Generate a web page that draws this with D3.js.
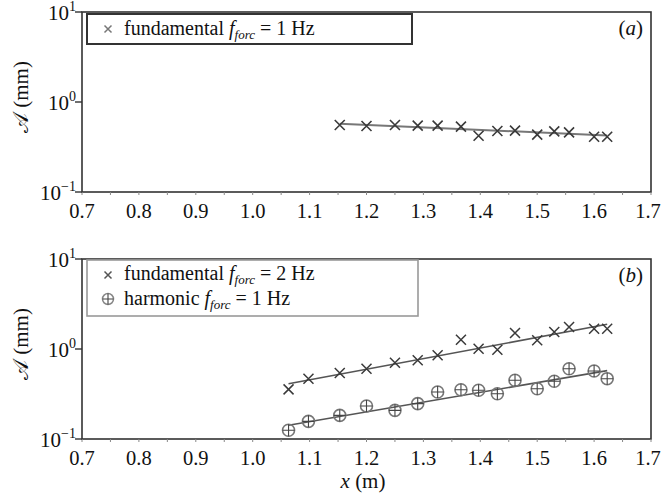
<!DOCTYPE html>
<html>
<head>
<meta charset="utf-8">
<script src="https://cdn.jsdelivr.net/npm/d3@7"></script>
<style>
  html, body { margin: 0; padding: 0; background: #fff; }
  svg { display: block; font-family: "Liberation Serif", "DejaVu Serif", serif; }
</style>
</head>
<body>
<svg id="chart" width="662" height="497"></svg>
<script>
// ---------- data ----------
const xTickValues = [0.7, 0.8, 0.9, 1.0, 1.1, 1.2, 1.3, 1.4, 1.5, 1.6, 1.7];
const yTickExponents = [1, 0, -1];

// panel (a): fundamental, f_forc = 1 Hz
const positionsA = [1.153, 1.2, 1.25, 1.29, 1.325, 1.366, 1.397, 1.43, 1.461, 1.5, 1.53, 1.556, 1.6, 1.623];
const fundamentalA = [0.555, 0.541, 0.555, 0.546, 0.546, 0.532, 0.422, 0.476, 0.48, 0.434, 0.472, 0.46, 0.411, 0.411];
const fitXA = [1.153, 1.623];
const fitYA = [0.575, 0.425];

// panel (b): fundamental f_forc = 2 Hz, harmonic f_forc = 1 Hz
const positionsB = [1.063, 1.098, 1.153, 1.2, 1.25, 1.29, 1.325, 1.366, 1.397, 1.43, 1.461, 1.5, 1.53, 1.556, 1.6, 1.623];
const fundamentalB = [0.356, 0.468, 0.541, 0.604, 0.705, 0.749, 0.851, 1.268, 1.008, 0.982, 1.506, 1.25, 1.545, 1.755, 1.68, 1.68];
const harmonicB = [0.125, 0.157, 0.183, 0.233, 0.208, 0.247, 0.333, 0.353, 0.348, 0.318, 0.449, 0.362, 0.438, 0.604, 0.570, 0.468];
const fitXB = [1.063, 1.623];
const fitFundB = [0.411, 1.88];
const fitHarmB = [0.142, 0.575];

// ---------- layout ----------
const svg = d3.select("#chart");
const left = 82, right = 651;
const x = d3.scaleLinear().domain([0.7, 1.7]).range([left, right]);
const FS = 21;

function drawCross(g, cx, cy, h, color, sw) {
  g.append("path")
    .attr("d", `M${cx - h},${cy - h}L${cx + h},${cy + h}M${cx - h},${cy + h}L${cx + h},${cy - h}`)
    .attr("stroke", color).attr("stroke-width", sw).attr("fill", "none");
}
function drawCirclePlus(g, cx, cy, r, color, sw) {
  g.append("circle").attr("cx", cx).attr("cy", cy).attr("r", r)
    .attr("fill", "none").attr("stroke", color).attr("stroke-width", sw);
  g.append("path")
    .attr("d", `M${cx - r},${cy}L${cx + r},${cy}M${cx},${cy - r}L${cx},${cy + r}`)
    .attr("stroke", "#444").attr("stroke-width", 1.1).attr("fill", "none");
}

function legendLabel(g, lx, ly, prefix, suffix) {
  const t = g.append("text").attr("x", lx).attr("y", ly)
    .attr("font-size", 20).attr("fill", "#111");
  t.append("tspan").text(prefix + " ");
  t.append("tspan").attr("font-style", "italic").text("f");
  t.append("tspan").attr("font-style", "italic").attr("font-size", 13).attr("dy", 4).text("forc");
  t.append("tspan").attr("dy", -4).text(" " + suffix);
}

function panel(top, bottom, label, showXLabel) {
  const y = d3.scaleLog().domain([0.1, 10]).range([bottom, top]);
  const g = svg.append("g");

  // frame
  g.append("rect").attr("x", left).attr("y", top)
    .attr("width", right - left).attr("height", bottom - top)
    .attr("fill", "none").attr("stroke", "#333").attr("stroke-width", 1.6);

  // x ticks (minor every 0.05)
  const minor = d3.range(0, 21).map(i => 0.7 + i * 0.05);
  g.selectAll(".xmt").data(minor).enter().append("line")
    .attr("x1", d => x(d)).attr("x2", d => x(d))
    .attr("y1", bottom).attr("y2", bottom + 3)
    .attr("stroke", "#888").attr("stroke-width", 1);

  g.selectAll(".xtl").data(xTickValues).enter().append("text")
    .attr("x", d => Math.min(x(d), 648)).attr("y", bottom + 26)
    .attr("text-anchor", "middle").attr("font-size", 20.5).attr("fill", "#111")
    .text(d => d.toFixed(1));

  // y ticks
  g.selectAll(".ytk").data(yTickExponents).enter().append("line")
    .attr("x1", left - 7).attr("x2", left)
    .attr("y1", d => y(Math.pow(10, d))).attr("y2", d => y(Math.pow(10, d)))
    .attr("stroke", "#333").attr("stroke-width", 1.4);

  yTickExponents.forEach(e => {
    const t = g.append("text").attr("x", 76).attr("y", y(Math.pow(10, e)) + 8)
      .attr("text-anchor", "end").attr("font-size", FS).attr("fill", "#111");
    t.append("tspan").text("10");
    t.append("tspan").attr("font-size", 14).attr("dy", -9).text(e < 0 ? "\u2212" + Math.abs(e) : String(e));
  });

  // y label
  const cy = top + 85;
  g.append("text").attr("transform", `translate(28,${cy}) rotate(-90)`)
    .attr("text-anchor", "middle").attr("font-size", FS).attr("fill", "#111")
    .text("\uD835\uDC9C (mm)");

  // panel label
  const pl = g.append("text").attr("x", 643).attr("y", top + 23)
    .attr("text-anchor", "end").attr("font-size", FS).attr("fill", "#111");
  pl.append("tspan").text("(");
  pl.append("tspan").attr("font-style", "italic").text(label);
  pl.append("tspan").text(")");

  if (showXLabel) {
    const xl = svg.append("text").attr("x", 363).attr("y", 488)
      .attr("text-anchor", "middle").attr("font-size", FS).attr("fill", "#111");
    xl.append("tspan").attr("font-style", "italic").text("x");
    xl.append("tspan").text(" (m)");
  }
  return { g, y };
}

const line = (y) => d3.line().x(d => x(d[0])).y(d => y(d[1]));

// ---------- panel (a) ----------
{
  const { g, y } = panel(12, 192, "a", false);
  g.append("path").datum(d3.zip(fitXA, fitYA)).attr("d", line(y))
    .attr("fill", "none").attr("stroke", "#777").attr("stroke-width", 2);
  positionsA.forEach((p, i) => drawCross(g, x(p), y(fundamentalA[i]), 5, "#3a3a3a", 1.6));

  g.append("rect").attr("x", 87).attr("y", 14).attr("width", 325).attr("height", 30)
    .attr("fill", "#fff").attr("stroke", "#333").attr("stroke-width", 2);
  drawCross(g, 108, 29, 3.5, "#777", 1.5);
  legendLabel(g, 124, 35, "fundamental", "= 1 Hz");
}

// ---------- panel (b) ----------
{
  const { g, y } = panel(259, 439, "b", true);
  g.append("path").datum(d3.zip(fitXB, fitFundB)).attr("d", line(y))
    .attr("fill", "none").attr("stroke", "#555").attr("stroke-width", 1.6);
  g.append("path").datum(d3.zip(fitXB, fitHarmB)).attr("d", line(y))
    .attr("fill", "none").attr("stroke", "#555").attr("stroke-width", 1.6);
  positionsB.forEach((p, i) => drawCross(g, x(p), y(fundamentalB[i]), 5, "#3a3a3a", 1.5));
  positionsB.forEach((p, i) => drawCirclePlus(g, x(p), y(harmonicB[i]), 6, "#777", 1.6));

  g.append("rect").attr("x", 87).attr("y", 260).attr("width", 331).attr("height", 56)
    .attr("fill", "#fff").attr("stroke", "#999").attr("stroke-width", 1.6);
  drawCross(g, 108, 275, 3.5, "#555", 1.5);
  legendLabel(g, 124, 280, "fundamental", "= 2 Hz");
  drawCirclePlus(g, 108, 299, 5.5, "#888", 1.5);
  legendLabel(g, 124, 305, "harmonic", "= 1 Hz");
}
</script>
</body>
</html>
